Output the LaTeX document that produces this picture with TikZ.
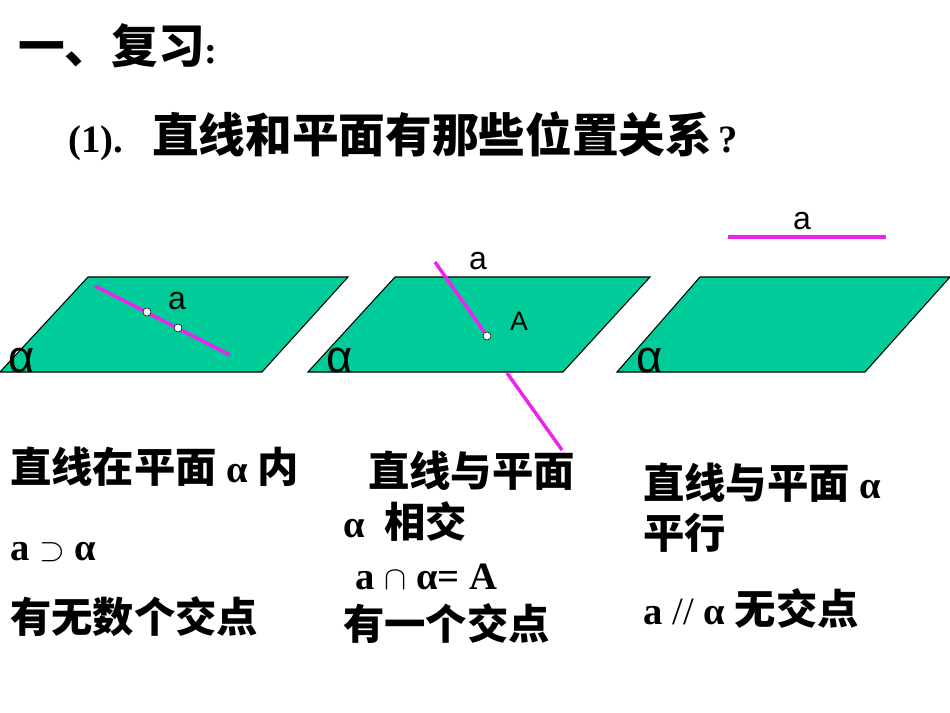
\documentclass[tikz,border=0pt]{standalone}
\usepackage{fontspec}
\setmainfont{Liberation Serif}
\setsansfont{Liberation Sans}
\newfontfamily\cjk{Noto Sans CJK SC}
\definecolor{pl}{HTML}{00CC99}
\definecolor{mg}{HTML}{EE22EE}
\newcommand{\zh}[1]{{\cjk\bfseries\fontsize{31pt}{32pt}\selectfont #1}}
\newcommand{\zhh}[1]{{\cjk\bfseries\fontsize{35pt}{36pt}\selectfont #1}}
\begin{document}
\begin{tikzpicture}[x=0.75pt,y=-0.75pt,
  plane/.style={fill=pl,draw=black,line width=0.8pt},
  ln/.style={mg,line width=2.6pt},
  pt/.style={circle,draw=black,fill=white,inner sep=0pt,minimum size=6pt},
  al/.style={font=\sffamily\fontsize{34pt}{34pt}\selectfont,anchor=base west,inner sep=0pt},
  lab/.style={font=\sffamily\fontsize{24pt}{24pt}\selectfont,anchor=base,inner sep=0pt},
  tx/.style={font=\bfseries\fontsize{29pt}{30pt}\selectfont,anchor=base west,inner sep=0pt}]
\useasboundingbox (0,0) rectangle (950,713);
% planes
\draw[plane] (0,372) -- (88,277) -- (348,277) -- (262,372) -- cycle;
\draw[plane] (308,372) -- (395,277) -- (650,277) -- (563,372) -- cycle;
\draw[plane] (617,372) -- (700,277) -- (950,277) -- (865,372) -- cycle;
% lines
\coordinate (l1a) at (95,286); \coordinate (l1b) at (230,355);
\draw[ln] (l1a) -- (l1b);
\node[pt] (p1) at (147,312) {}; \node[pt] (p2) at (178,328) {};
\coordinate (l2a) at (435,262); \node[pt] (A) at (487,336) {};
\draw[ln] (l2a) -- (A);
\coordinate (l2c) at (507,373); \coordinate (l2d) at (562,450);
\draw[ln] (l2c) -- (l2d);
\coordinate (l3a) at (728,237); \coordinate (l3b) at (886,237);
\draw[ln] (l3a) -- (l3b);
% labels
\node[lab] (la1) at (177,309) {a};
\node[lab] (la2) at (478,269) {a};
\node[lab,font=\sffamily\fontsize{20pt}{20pt}\selectfont] (lA) at (519,330) {A};
\node[lab] (la3) at (802,229) {a};
\node[al] (al1) at (8,372) {α};
\node[al] (al2) at (326,372) {α};
\node[al] (al3) at (636,372) {α};
% headings
\node[tx] (h1) at (18,64) {\zhh{一、复习}:};
\node[tx] (h2) at (68,153) {(1).\ \ \ \zhh{直线和平面有那些位置关系}\,?};
% column 1
\node[tx] (c11) at (10,482) {\zh{直线在平面} α \zh{内}};
\node[tx] (c12) at (10,560) {a $\supset$ α};
\node[tx] (c13) at (10,632) {\zh{有无数个交点}};
% column 2
\node[tx] (c21) at (368,486) {\zh{直线与平面}};
\node[tx] (c22) at (343,537) {α\ \ \zh{相交}};
\node[tx] (c23) at (355,589) {a $\cap$ α= A};
\node[tx] (c24) at (343,639) {\zh{有一个交点}};
% column 3
\node[tx] (c31) at (643,498) {\zh{直线与平面} α};
\node[tx] (c32) at (643,548) {\zh{平行}};
\node[tx] (c33) at (643,624) {a {\mdseries //} α \zh{无交点}};
\end{tikzpicture}
\end{document}
